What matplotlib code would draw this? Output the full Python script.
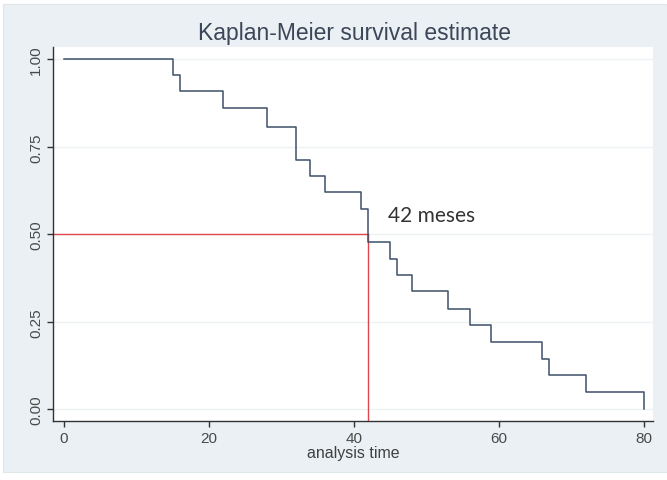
import matplotlib.pyplot as plt

# Kaplan-Meier step values
times = [0, 15, 16, 22, 28, 32, 34, 36, 41, 42, 45, 46, 48, 53, 56, 59, 66, 67, 72, 80]
surv = [1.0, 0.955, 0.909, 0.862, 0.807, 0.712, 0.667, 0.620, 0.572, 0.477,
        0.431, 0.384, 0.337, 0.288, 0.240, 0.193, 0.145, 0.097, 0.050, 0.0]
median_time = 42
median_surv = 0.5
xticks = [0, 20, 40, 60, 80]
yticks = [0.0, 0.25, 0.5, 0.75, 1.0]
ytick_labels = ["0.00", "0.25", "0.50", "0.75", "1.00"]

bg = "#eaf0f3"
fig = plt.figure(figsize=(6.67, 4.81), dpi=100)
fig.patch.set_facecolor("white")
# light Stata-like graph region
fig.add_artist(plt.Rectangle((3 / 667, 8 / 481), 664 / 667, 468 / 481,
                             transform=fig.transFigure, facecolor=bg,
                             edgecolor="#dfe6ea", lw=0.8, zorder=0))

ax = fig.add_axes([53 / 667, 1 - 422 / 481, 600 / 667, 374 / 481])
ax.set_facecolor("white")
ax.set_xlim(-1.5, 81.3)
ax.set_ylim(-0.033, 1.035)

for y in yticks:
    ax.axhline(y, color="#eef2f4", lw=1.0, zorder=1)

ax.step(times, surv, where="post", color="#3e506a", lw=1.1, zorder=3)

x0 = ax.get_xlim()[0]
y0 = ax.get_ylim()[0]
ax.plot([x0, median_time], [median_surv, median_surv], color="#e0474c", lw=1.0, zorder=2)
ax.plot([median_time, median_time], [y0, median_surv], color="#e0474c", lw=1.0, zorder=2)
ax.text(median_time + 2.7, 0.555, "42 meses", fontsize=15, family="Lato",
        color="#333333", va="center", ha="left")

for side in ["top", "right"]:
    ax.spines[side].set_visible(False)
for side in ["left", "bottom"]:
    ax.spines[side].set_color("#333333")
    ax.spines[side].set_linewidth(1.0)

ax.set_xticks(xticks)
ax.set_yticks(yticks)
ax.set_yticklabels(ytick_labels, rotation=90, va="center", family="Liberation Sans")
ax.set_xticklabels([str(t) for t in xticks], family="Liberation Sans")
ax.tick_params(axis="both", length=4, width=1, color="#333333",
               labelsize=11, labelcolor="#4a4a4a", pad=3)
ax.set_xlabel("analysis time", fontsize=11.5, family="Liberation Sans",
              color="#404040", labelpad=0)

fig.text(0.531, 0.931, "Kaplan-Meier survival estimate", ha="center", va="center",
         fontsize=16.5, family="Liberation Sans", color="#3b4658")

fig.savefig("out.png", dpi=100, facecolor=fig.get_facecolor())
